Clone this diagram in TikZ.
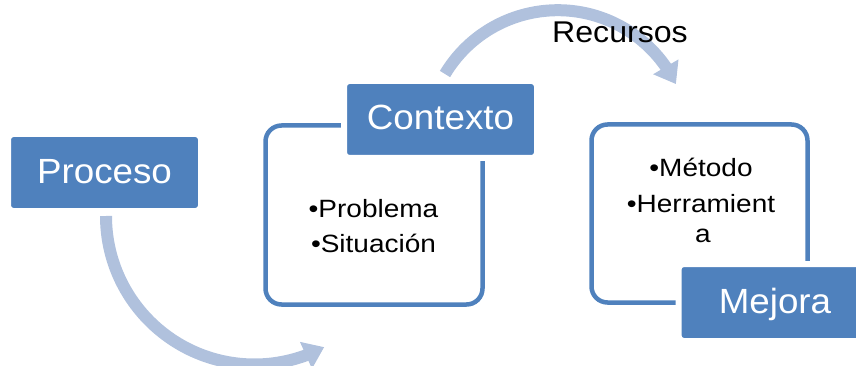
\documentclass[tikz,border=0pt]{standalone}
\usepackage{fontspec}
\setmainfont{Liberation Sans}
\newfontfamily\bigfont[FakeStretch=1.05]{Liberation Sans}
\newfontfamily\bodyfont[FakeStretch=1.12]{Liberation Sans}
\newfontfamily\recfont[FakeStretch=1.07]{Liberation Sans}
\usetikzlibrary{arrows.meta,bending}
\definecolor{boxblue}{HTML}{4F81BD}
\definecolor{arrowblue}{HTML}{B0C1DD}
\begin{document}
\begin{tikzpicture}[x=1pt,y=-1pt,
  flowarrow/.style={draw=arrowblue, line width=12pt, -{Triangle[width=28pt,length=20pt]}},
  outlinebox/.style={draw=boxblue, line width=4.5pt, rounded corners=16pt, inner sep=0pt},
  bluebox/.style={fill=boxblue, draw=white, line width=6pt, rounded corners=5pt, text=white,
    font=\bigfont\fontsize{35}{42}\selectfont, minimum width=193pt, minimum height=77pt,
    inner sep=0pt, text height=21pt, text depth=0pt},
  itemtext/.style={font=\bodyfont\fontsize{25}{30}\selectfont, anchor=base, inner sep=0pt}
]
\useasboundingbox (0,0) rectangle (856,366);
% outline frames
\node[outlinebox, minimum width=217pt, minimum height=179pt] (f1) at (374,215) {};
\node[outlinebox, minimum width=216pt, minimum height=178pt] (f2) at (699.5,213.5) {};
% blue boxes
\node[bluebox] (proceso) at (104.5,172.5) {Proceso};
\node[bluebox] (contexto) at (440.5,119.5) {Contexto};
\node[bluebox] (mejora) at (775,302.5) {Mejora};
% arrows
\coordinate (a1s) at ([xshift=1.5pt,yshift=-2pt]proceso.south);
\coordinate (a2s) at ([xshift=4.5pt,yshift=4pt]contexto.north);
\draw[flowarrow] (a1s) arc[start angle=180, end angle=62, radius=148.5];
\draw[flowarrow] (a2s) arc[start angle=211, end angle=334, radius=131.5];
% texts
\node[itemtext] (p1) at (373.5,218) {•Problema};
\node[itemtext] (p2) at (373.5,252) {•Situación};
\node[itemtext] (m1) at (701,177) {•Método};
\node[itemtext] (m2) at (701,212) {•Herramient};
\node[itemtext] (m3) at (703,242) {a};
\node[font=\recfont\fontsize{30}{36}\selectfont, anchor=base, inner sep=0pt] (rec) at (620,43) {Recursos};
\end{tikzpicture}
\end{document}
